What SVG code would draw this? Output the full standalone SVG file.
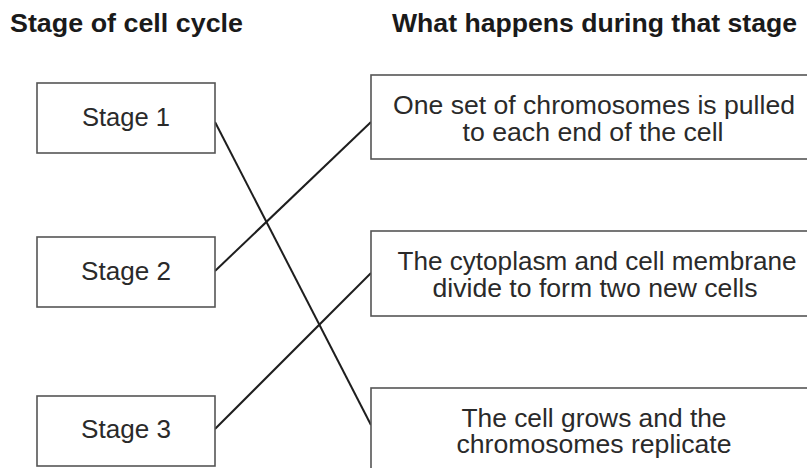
<svg xmlns="http://www.w3.org/2000/svg" width="807" height="468" viewBox="0 0 807 468">
<style>
.bg{fill:#ffffff}
.box{fill:#ffffff;stroke:#555555;stroke-width:1.6}
.hdr{font-family:"Liberation Sans",Arial,sans-serif;font-weight:bold;font-size:26.5px;fill:#1a1a1a}
.lbl{font-family:"Liberation Sans",Arial,sans-serif;font-size:25px;fill:#2a2a2a;text-anchor:middle}
.con{stroke:#1e1e1e;stroke-width:2;fill:none}
</style>
<rect class="bg" x="0" y="0" width="807" height="468"/>
<g id="headers">
<text class="hdr" x="10" y="32" textLength="233" lengthAdjust="spacingAndGlyphs">Stage of cell cycle</text>
<text class="hdr" x="392" y="32" textLength="405" lengthAdjust="spacingAndGlyphs">What happens during that stage</text>
</g>
<g id="connectors">
<line class="con" x1="215" y1="122" x2="371" y2="425"/>
<line class="con" x1="215" y1="271" x2="371" y2="122"/>
<line class="con" x1="215" y1="429" x2="371" y2="273"/>
</g>
<g id="stage1">
<rect class="box" x="37" y="83" width="178" height="70"/>
<text class="lbl" x="126" y="126" textLength="88" lengthAdjust="spacingAndGlyphs">Stage 1</text>
</g>
<g id="stage2">
<rect class="box" x="37" y="237" width="178" height="70"/>
<text class="lbl" x="126" y="280" textLength="90" lengthAdjust="spacingAndGlyphs">Stage 2</text>
</g>
<g id="stage3">
<rect class="box" x="37" y="396" width="178" height="70"/>
<text class="lbl" x="126" y="438" textLength="90" lengthAdjust="spacingAndGlyphs">Stage 3</text>
</g>
<g id="event1">
<rect class="box" x="371" y="75" width="460" height="84"/>
<text class="lbl" x="594" y="114" textLength="402" lengthAdjust="spacingAndGlyphs">One set of chromosomes is pulled</text>
<text class="lbl" x="593" y="141" textLength="261" lengthAdjust="spacingAndGlyphs">to each end of the cell</text>
</g>
<g id="event2">
<rect class="box" x="371" y="231" width="460" height="85"/>
<text class="lbl" x="597" y="270" textLength="399" lengthAdjust="spacingAndGlyphs">The cytoplasm and cell membrane</text>
<text class="lbl" x="595" y="297" textLength="325" lengthAdjust="spacingAndGlyphs">divide to form two new cells</text>
</g>
<g id="event3">
<rect class="box" x="371" y="388" width="460" height="100"/>
<text class="lbl" x="594" y="427" textLength="265" lengthAdjust="spacingAndGlyphs">The cell grows and the</text>
<text class="lbl" x="594" y="453" textLength="275" lengthAdjust="spacingAndGlyphs">chromosomes replicate</text>
</g>
</svg>
